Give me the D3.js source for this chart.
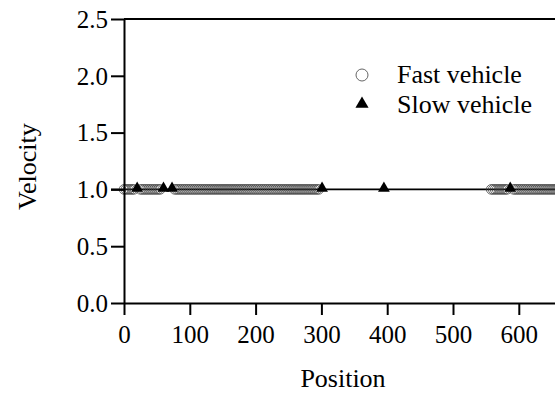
<!DOCTYPE html>
<html>
<head>
<meta charset="utf-8">
<script src="https://cdn.jsdelivr.net/npm/d3@7"></script>
<style>
  body { margin: 0; background: #fff; }
  svg { display: block; }
  svg text { font-family: "Liberation Serif", "Times New Roman", serif; fill: #000; }
</style>
</head>
<body>
<div id="chart"></div>
<script>
// Positions of fast vehicles (all at velocity 1.0)
const fastPositions = [
  0, 3, 6, 9, 12, 15,
  25, 28, 31, 34, 37, 40, 43, 46, 49, 52, 55,
  77, 80, 83, 86, 89, 92, 95, 98, 101, 104, 107, 110, 113, 116, 119, 122, 125, 128,
  131, 134, 137, 140, 143, 146, 149, 152, 155, 158, 161, 164, 167, 170, 173, 176,
  179, 182, 185, 188, 191, 194, 197, 200, 203, 206, 209, 212, 215, 218, 221, 224,
  227, 230, 233, 236, 239, 242, 245, 248, 251, 254, 257, 260, 263, 266, 269, 272,
  275, 278, 281, 284, 287, 290, 293, 296,
  558, 561, 564, 567, 570, 573, 576, 579, 582,
  592, 595, 598, 601, 604, 607, 610, 613, 616, 619, 622, 625, 628, 631, 634, 637,
  640, 643, 646, 649, 652, 655, 658, 661, 664
];
const fastVelocity = 1.0;

// Positions of slow vehicles
const slowPositions = [20, 60, 73, 301, 395, 587];
const slowVelocity = 1.0;

const xTicks = [0, 100, 200, 300, 400, 500, 600];
const yTicks = [0, 0.5, 1.0, 1.5, 2.0, 2.5];

const width = 555;
const height = 399;
const margin = { left: 124, top: 19, bottom: 96 };

const svg = d3.select("#chart").append("svg")
  .attr("width", width)
  .attr("height", height);

const x = d3.scaleLinear()
  .domain([0, 700])
  .range([margin.left, margin.left + 700 * 0.658]);

const y = d3.scaleLinear()
  .domain([0, 2.5])
  .range([height - margin.bottom, margin.top]);

// Reference line at v = 1.0
svg.append("line")
  .attr("x1", x(0) - 13).attr("x2", width)
  .attr("y1", y(1)).attr("y2", y(1))
  .attr("stroke", "#000").attr("stroke-width", 1.6);

// Fast vehicles: open circles
svg.append("g")
  .selectAll("circle")
  .data(fastPositions)
  .enter()
  .append("circle")
  .attr("cx", d => x(d))
  .attr("cy", y(fastVelocity))
  .attr("r", 4.8)
  .attr("fill", "none")
  .attr("stroke", "#444")
  .attr("stroke-width", 0.8);

const tri = d3.symbol().type(d3.symbolTriangle).size(60);

// Slow vehicles: filled triangles
svg.append("g")
  .selectAll("path")
  .data(slowPositions)
  .enter()
  .append("path")
  .attr("d", tri)
  .attr("transform", d => `translate(${x(d)},${y(slowVelocity) - 1})`)
  .attr("fill", "#000");

// Axes
const xAxis = svg.append("g")
  .attr("transform", `translate(0,${y(0)})`)
  .call(d3.axisBottom(x).tickValues(xTicks).tickSize(12).tickSizeOuter(0).tickPadding(8));

const yAxis = svg.append("g")
  .attr("transform", `translate(${x(0)},0)`)
  .call(d3.axisLeft(y).tickValues(yTicks).tickSize(13).tickSizeOuter(0).tickPadding(3)
    .tickFormat(d3.format(".1f")));

[xAxis, yAxis].forEach(a => {
  a.attr("font-family", null).attr("font-size", 25);
  a.select(".domain").attr("stroke-width", 2);
  a.selectAll(".tick line").attr("stroke-width", 2);
});
yAxis.selectAll("text").attr("dy", "0.33em");
xAxis.selectAll("text").attr("dy", "0.8em");

// Top frame line
svg.append("line")
  .attr("x1", x(0)).attr("x2", width)
  .attr("y1", y(2.5)).attr("y2", y(2.5))
  .attr("stroke", "#000").attr("stroke-width", 2);

// Axis titles
svg.append("text")
  .attr("x", 343)
  .attr("y", 387)
  .attr("text-anchor", "middle")
  .attr("font-size", 26)
  .text("Position");

svg.append("text")
  .attr("transform", `translate(36,${y(1.2)}) rotate(-90)`)
  .attr("text-anchor", "middle")
  .attr("font-size", 26)
  .text("Velocity");

// Legend
const legend = svg.append("g");
legend.append("circle")
  .attr("cx", 362).attr("cy", 75).attr("r", 6)
  .attr("fill", "none").attr("stroke", "#555").attr("stroke-width", 0.9);
legend.append("text")
  .attr("x", 397).attr("y", 83)
  .attr("font-size", 26)
  .text("Fast vehicle");
legend.append("path")
  .attr("d", d3.symbol().type(d3.symbolTriangle).size(75))
  .attr("transform", "translate(362,104)")
  .attr("fill", "#000");
legend.append("text")
  .attr("x", 397).attr("y", 113)
  .attr("font-size", 26)
  .text("Slow vehicle");
</script>
</body>
</html>
